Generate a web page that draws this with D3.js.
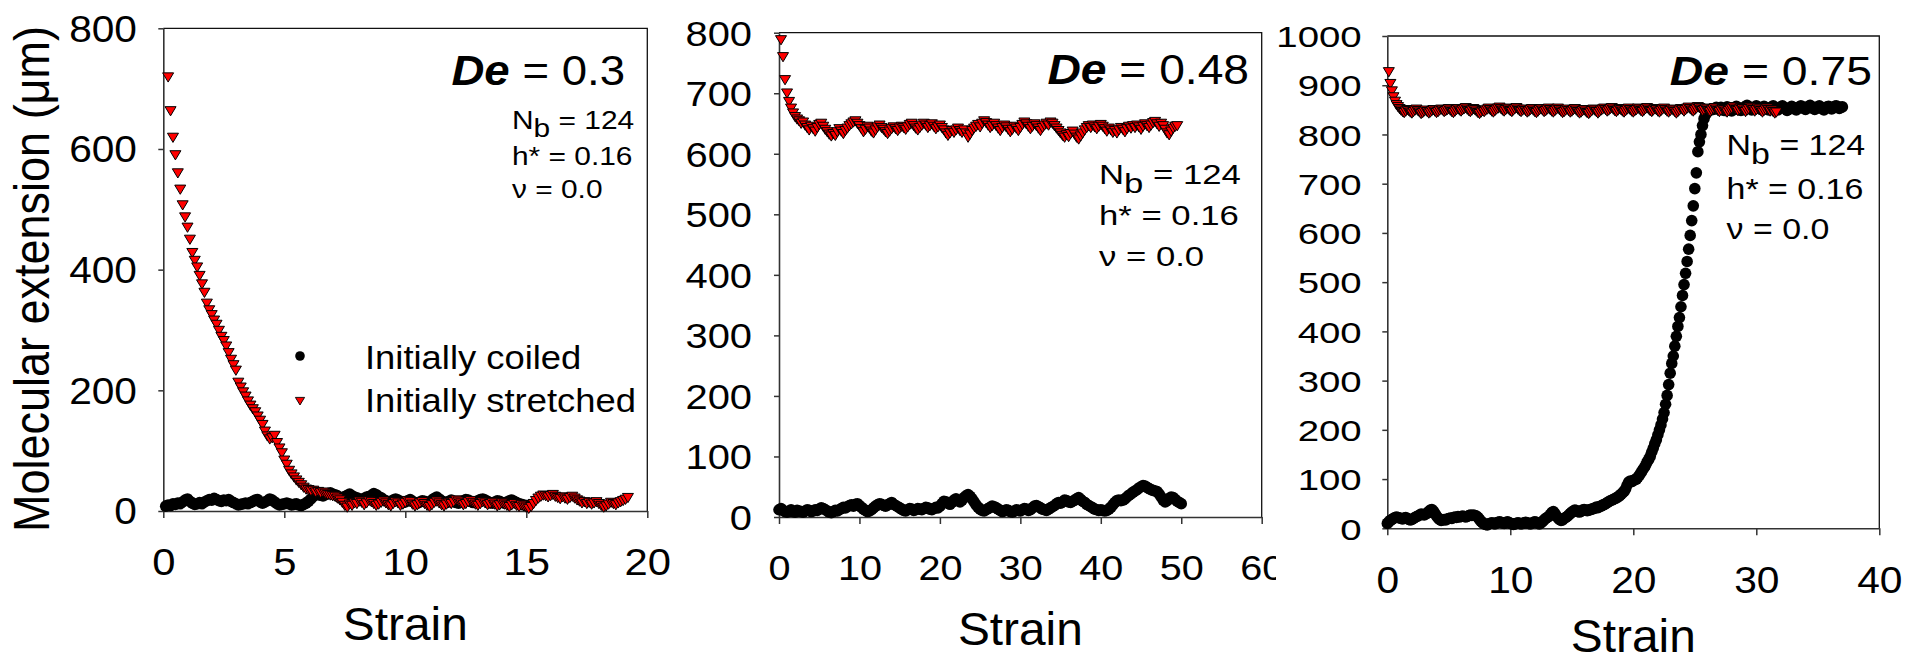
<!DOCTYPE html>
<html><head><meta charset="utf-8">
<script src="https://cdn.jsdelivr.net/npm/d3@7"></script>
<style>html,body{margin:0;padding:0;background:#fff;overflow:hidden}</style>
</head><body>
<svg id="c" width="1921" height="662"></svg>
<script>
// ---------------- DATA ----------------
// Panel 1 (De = 0.3)
const p1XTicks = [0, 5, 10, 15, 20];
const p1YTicks = [0, 200, 400, 600, 800];
const p1RedStart = 0.2, p1RedStep = 0.1;
const p1Red = [
719,663,619,590,560,533,507,487,470,450,
428,415,404,390,376,362,344,333,325,316,
309,299,289,282,273,262,251,242,233,213,
205,197,190,182,175,169,164,157,150,143,
132,124,119,121,125,113,104,96,84,77,
67,61,56,51,47,43,39,36,35,33,
34,31,32,30,31,29,27,26,25,24,
21,18,14,9,6,11,9,13,12,16,
14,10,13,17,15,12,9,11,14,16,
13,10,8,12,15,13,9,11,14,17,
15,11,8,10,13,15,12,9,7,10,
14,16,13,10,8,11,14,12,15,18,
16,13,10,12,15,17,14,11,9,12,
15,13,10,12,14,11,8,10,13,11,
9,7,10,12,9,7,10,8,6,4,
7,12,17,21,24,26,25,23,25,27,
24,22,20,23,21,19,22,24,21,18,
16,13,15,12,14,11,13,15,12,9,
6,8,11,14,12,10,13,15,17,19,
22];
const p1BlackStart = 0.1, p1BlackStep = 0.1;
const p1Black = [
8,10,9,12,11,13,12,15,18,20,
16,13,11,12,14,12,15,17,19,18,
21,19,17,16,18,17,19,16,14,12,
10,11,12,13,12,14,16,18,19,15,
13,15,17,20,18,15,12,10,11,12,
13,12,10,11,12,10,9,11,13,16,
20,24,27,28,26,25,27,29,30,28,
27,25,22,20,24,26,28,25,23,22,
20,19,21,23,24,26,29,27,24,22,
19,17,15,16,18,20,18,16,14,15,
17,19,16,14,13,15,17,16,14,15,
18,21,23,20,17,15,14,16,18,16,
14,13,15,17,19,18,16,14,15,17,
19,20,18,16,14,13,15,17,16,14,
13,15,17,18,16,14,12,11,10,9];

// Panel 2 (De = 0.48)
const p2XTicks = [0, 10, 20, 30, 40, 50, 60];
const p2YTicks = [0, 100, 200, 300, 400, 500, 600, 700, 800];
const p2RedStart = 0.25, p2RedStep = 0.25;
const p2Red = [
788,760,722,700,686,675,667,661,657,654,650,652,647,643,639,645,641,637,643,648,
650,645,640,636,632,629,633,630,636,641,637,633,638,642,646,649,652,654,650,646,
641,636,640,645,642,637,634,639,644,647,643,640,636,633,637,641,644,641,638,642,
645,643,640,644,648,650,646,642,639,643,647,650,647,643,646,649,645,641,644,647,
643,639,634,630,634,638,635,639,642,638,635,639,634,627,632,638,642,645,648,644,
650,654,651,647,643,646,650,646,642,638,643,647,644,640,636,640,645,642,638,643,
648,652,649,645,641,645,649,646,642,638,643,647,650,647,652,650,646,642,638,634,
630,627,631,628,633,637,632,627,624,629,634,639,643,646,643,647,644,641,645,648,
645,641,637,642,639,635,638,634,639,643,640,636,641,645,642,646,643,647,644,640,
645,649,646,643,647,651,653,649,645,650,646,640,634,631,637,642,645,646];
const p2BlackStart = 0, p2BlackStep = 0.25;
const p2Black = [
12,14,11,9,8,10,12,9,8,11,10,9,8,10,12,11,9,10,12,11,
13,15,14,12,10,8,7,9,11,10,12,14,16,15,17,19,20,18,21,22,
19,16,13,11,9,10,12,15,18,20,22,21,19,18,20,22,24,21,19,17,
15,13,11,10,12,14,13,11,12,14,13,12,14,16,15,13,12,14,16,15,
18,22,26,25,23,21,24,28,30,27,25,28,32,35,37,34,30,25,20,16,
13,11,10,12,14,16,18,17,15,13,11,9,10,12,11,9,8,10,12,11,
10,12,14,13,11,12,15,18,19,17,15,13,12,11,13,15,17,19,22,24,
23,25,28,27,25,24,26,28,30,32,29,26,24,21,19,17,15,13,12,11,
12,11,10,11,13,16,20,24,27,28,27,28,30,33,36,38,41,43,45,48,
50,52,51,49,47,45,44,43,42,38,33,28,25,27,31,33,32,29,26,24,
22];

// Panel 3 (De = 0.75)
const p3XTicks = [0, 10, 20, 30, 40];
const p3YTicks = [0, 100, 200, 300, 400, 500, 600, 700, 800, 900, 1000];
const p3RedStart = 0.125, p3RedStep = 0.125;
const p3Red = [
927,903,888,876,867,860,856,852,
849,846,844,847,850,848,845,843,
846,849,851,848,845,842,844,847,
849,846,843,845,848,850,847,844,
846,849,851,849,846,848,850,852,
849,846,844,847,850,852,849,847,
850,852,854,851,848,846,849,852,
850,847,844,842,845,848,846,849,
851,853,850,847,845,848,851,853,
855,852,849,847,850,853,851,848,
846,849,852,854,851,848,846,849,
851,848,845,847,850,852,849,846,
844,847,850,852,849,846,848,851,
853,850,847,845,848,851,853,850,
847,844,846,849,851,848,845,847,
850,852,849,846,843,845,848,850,
847,844,842,845,848,851,849,846,
843,846,849,851,853,850,847,849,
852,854,851,848,846,849,852,850,
847,845,848,851,853,850,847,845,
848,850,853,851,848,846,849,852,
854,851,848,846,849,852,850,847,
845,848,851,853,850,847,845,848,
851,849,846,843,846,849,852,850,
847,850,853,855,852,849,847,850,
853,856,854,851,848,850,853,851,
848,846,849,852,854,851,848,846,
849,852,850,847,845,848,851,853,
856,853,850,848,851,854,852,849,
846,849,852,855,853,850,847,850,
853,851,848,845,848,851,853,850,
847,849,846,843,845];
const p3BlackStart = 0, p3BlackStep = 0.125;
const p3Black = [
10,13,16,18,20,22,23,22,
21,20,19,21,22,20,18,17,
18,20,22,24,25,27,29,28,
27,29,31,34,37,38,35,30,
25,21,18,16,17,18,17,19,
20,21,20,22,23,22,24,23,
24,25,24,23,24,26,27,26,
27,26,25,22,18,14,11,9,
8,7,9,10,11,10,9,11,
12,13,12,11,10,11,13,12,
10,9,8,9,10,11,10,9,
10,11,12,11,10,9,10,12,
13,12,10,9,11,14,17,20,
22,24,28,32,34,30,25,21,
18,16,17,20,22,24,27,30,
33,35,37,36,34,33,35,37,
38,37,36,37,38,39,40,41,
43,42,44,45,47,48,50,52,
54,56,57,59,60,62,64,66,
69,72,75,80,88,94,96,95,
97,99,100,104,108,113,118,123,
128,135,140,146,155,163,172,180,
190,200,210,222,235,252,270,292,
315,335,350,370,390,410,428,450,
473,495,518,542,567,595,625,655,
690,722,765,785,800,818,832,840,
845,848,850,852,851,853,855,852,
852,855,851,849,853,856,854,850,
848,851,854,857,855,852,849,851,
854,857,859,856,853,850,852,855,
858,856,853,851,854,857,855,852,
850,853,856,858,855,852,850,853,
856,858,855,852,849,851,854,857,
855,852,850,853,856,858,856,853,
851,854,857,859,856,853,851,854,
856,858,855,852,850,853,856,857,
855,852,854,857,858,856,853,855,
856];

const deValues = ["0.3", "0.48", "0.75"];
const paramLines = [["N", "b", " = 124"], ["h* = 0.16"], ["\u03BD = 0.0"]];
const legendLabels = ["Initially coiled", "Initially stretched"];
const yTitle = "Molecular extension (\u03BCm)";
const xTitle = "Strain";

// ---------------- LAYOUT ----------------
const FONT = "'Liberation Sans', Arial, Helvetica, sans-serif";
const panels = [
  { red: p1Red, redStart: p1RedStart, redStep: p1RedStep, black: p1Black, blackStart: p1BlackStart, blackStep: p1BlackStep,
    xDomain: [0, 20], xTicks: p1XTicks, yDomain: [0, 800], yTicks: p1YTicks,
    x0: 163.3, x1: 647.3, yTop: 28.3, yBot: 511,
    yTick: {size: 36, sx: 1.13, gap: 26.3}, xTick: {size: 37, sx: 1.13, off: 37.7},
    de: {val: deValues[0], x: 625, y: 85, size: 43, sx: 1.06},
    par: {x: 512, ys: [129, 165, 198], size: 26, sx: 1.15, sub: 8},
    xt: {y: 640}, cover: null },
  { red: p2Red, redStart: p2RedStart, redStep: p2RedStep, black: p2Black, blackStart: p2BlackStart, blackStep: p2BlackStep,
    xDomain: [0, 60], xTicks: p2XTicks, yDomain: [0, 800], yTicks: p2YTicks,
    x0: 779, x1: 1261.7, yTop: 32.7, yBot: 517,
    yTick: {size: 35, sx: 1.14, gap: 27}, xTick: {size: 36, sx: 1.1, off: 37},
    de: {val: deValues[1], x: 1249, y: 83.5, size: 42, sx: 1.1},
    par: {x: 1099, ys: [183.5, 225, 265.5], size: 28, sx: 1.24, sub: 9},
    xt: {y: 645}, cover: null },
  { red: p3Red, redStart: p3RedStart, redStep: p3RedStep, black: p3Black, blackStart: p3BlackStart, blackStep: p3BlackStep,
    xDomain: [0, 40], xTicks: p3XTicks, yDomain: [0, 1000], yTicks: p3YTicks,
    x0: 1387.3, x1: 1879.3, yTop: 36, yBot: 528.3,
    yTick: {size: 30, sx: 1.28, gap: 25.6}, xTick: {size: 37, sx: 1.1, off: 38.4},
    de: {val: deValues[2], x: 1872, y: 84.7, size: 41, sx: 1.13},
    par: {x: 1726.6, ys: [154.5, 198.5, 239], size: 29, sx: 1.17, sub: 9},
    xt: {y: 652}, cover: 1276 }
];

const svg = d3.select("#c");
svg.append("rect").attr("width", 1921).attr("height", 662).attr("fill", "#fff");

const triPath = "M-5.5,-4.3L5.5,-4.3L0,4.9Z";

function drawPanel(P, idx) {
  const g = svg.append("g");
  if (P.cover) g.append("rect").attr("x", P.cover).attr("y", 0).attr("width", 1921 - P.cover).attr("height", 662).attr("fill", "#fff");
  const x = d3.scaleLinear().domain(P.xDomain).range([P.x0, P.x1]);
  const y = d3.scaleLinear().domain(P.yDomain).range([P.yBot, P.yTop]);

  // frame (top & right)
  g.append("path")
    .attr("d", `M${P.x0},${P.yTop}H${P.x1}V${P.yBot}`)
    .attr("fill", "none").attr("stroke", "#111").attr("stroke-width", 1.3);

  const ya = g.append("g").attr("transform", `translate(${P.x0},0)`)
    .call(d3.axisLeft(y).tickValues(P.yTicks).tickSize(5).tickSizeOuter(0).tickFormat(d3.format("d")));
  ya.select(".domain").attr("stroke", "#333").attr("stroke-width", 1.6);
  ya.selectAll(".tick line").attr("stroke", "#333").attr("stroke-width", 1.5);
  ya.selectAll(".tick text")
    .attr("font-family", FONT).attr("font-size", P.yTick.size).attr("fill", "#000")
    .attr("x", -P.yTick.gap / P.yTick.sx).attr("dy", "0.358em")
    .attr("transform", `scale(${P.yTick.sx},1)`);

  const xa = g.append("g").attr("transform", `translate(0,${P.yBot})`)
    .call(d3.axisBottom(x).tickValues(P.xTicks).tickSize(7).tickSizeOuter(0).tickFormat(d3.format("d")));
  xa.select(".domain").attr("stroke", "#333").attr("stroke-width", 1.6);
  xa.selectAll(".tick line").attr("stroke", "#333").attr("stroke-width", 1.5);
  xa.selectAll(".tick text")
    .attr("font-family", FONT).attr("font-size", P.xTick.size).attr("fill", "#000")
    .attr("dy", null).attr("y", P.xTick.off + 0.716 * P.xTick.size)
    .attr("transform", `scale(${P.xTick.sx},1)`);

  // black circles (initially coiled)
  const blackPts = P.black.map((v, i) => [P.blackStart + i * P.blackStep, v]);
  g.append("g").selectAll("circle").data(blackPts).join("circle")
    .attr("cx", d => x(d[0])).attr("cy", d => y(d[1])).attr("r", 5.8).attr("fill", "#000");

  // red triangles (initially stretched)
  const redPts = P.red.map((v, i) => [P.redStart + i * P.redStep, v]);
  g.append("g").selectAll("path").data(redPts).join("path")
    .attr("d", triPath)
    .attr("transform", d => `translate(${x(d[0])},${y(d[1])})`)
    .attr("fill", "#ff0000").attr("stroke", "#000").attr("stroke-width", 1);

  // De label
  const t = g.append("text")
    .attr("transform", `translate(${P.de.x},${P.de.y}) scale(${P.de.sx},1)`)
    .attr("text-anchor", "end").attr("font-family", FONT).attr("font-size", P.de.size).attr("fill", "#000");
  t.append("tspan").attr("font-weight", "bold").attr("font-style", "italic").text("De");
  t.append("tspan").text(" = " + P.de.val);

  // parameters
  paramLines.forEach((line, li) => {
    const tt = g.append("text")
      .attr("transform", `translate(${P.par.x},${P.par.ys[li]}) scale(${P.par.sx},1)`)
      .attr("font-family", FONT).attr("font-size", P.par.size).attr("fill", "#000");
    if (line.length === 3) {
      tt.append("tspan").text(line[0]);
      tt.append("tspan").attr("dy", P.par.sub).text(line[1]);
      tt.append("tspan").attr("dy", -P.par.sub).text(line[2]);
    } else {
      tt.append("tspan").text(line[0]);
    }
  });

  // x title
  g.append("text")
    .attr("transform", `translate(${(P.x0 + P.x1) / 2},${P.xt.y}) scale(1.04,1)`)
    .attr("text-anchor", "middle").attr("font-family", FONT).attr("font-size", 46).attr("fill", "#000")
    .text(xTitle);
}

panels.forEach(drawPanel);

// y title (panel 1)
svg.append("text")
  .attr("transform", "translate(49,279) rotate(-90) scale(1,1.1)")
  .attr("text-anchor", "middle").attr("font-family", FONT).attr("font-size", 45).attr("fill", "#000")
  .text(yTitle);

// legend (panel 1)
const lg = svg.append("g");
lg.append("circle").attr("cx", 300).attr("cy", 356).attr("r", 4.8).attr("fill", "#000");
lg.append("path").attr("d", "M-4.6,-3.6L4.6,-3.6L0,4Z").attr("transform", "translate(300,401)")
  .attr("fill", "#ff0000").attr("stroke", "#000").attr("stroke-width", 0.9);
[369.3, 411.7].forEach((yy, i) => {
  lg.append("text").attr("transform", `translate(365,${yy}) scale(1.07,1)`)
    .attr("font-family", FONT).attr("font-size", 34).attr("fill", "#000").text(legendLabels[i]);
});
</script>
</body></html>
